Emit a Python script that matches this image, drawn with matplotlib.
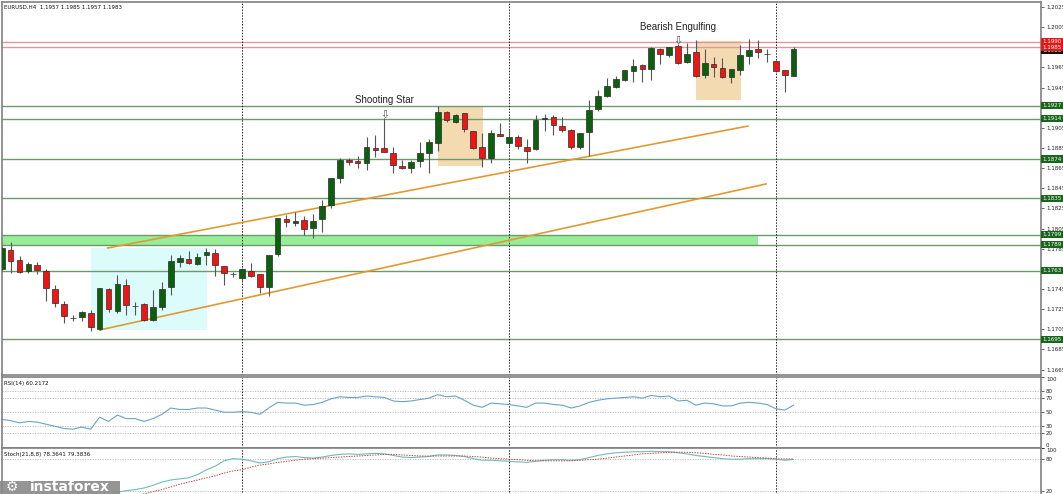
import numpy as np
import matplotlib
matplotlib.use("Agg")
import matplotlib.pyplot as plt
from matplotlib.patches import Rectangle
from matplotlib.transforms import blended_transform_factory

# EURUSD H4 candles
opens = [1.1765, 1.1784, 1.1774, 1.1763, 1.1769, 1.1763, 1.1745, 1.1730, 1.1716, 1.1717,
         1.1721, 1.1705, 1.1745, 1.1723, 1.1749, 1.1728, 1.1730, 1.1714, 1.1727, 1.1747,
         1.1772, 1.1775, 1.1770, 1.1779, 1.1781, 1.1768, 1.1760, 1.1756, 1.1763, 1.1760,
         1.1747, 1.1780, 1.1815, 1.1811, 1.1814, 1.1806, 1.1815, 1.1828, 1.1855, 1.1873,
         1.1872, 1.1870, 1.1885, 1.1885, 1.1880, 1.1867, 1.1865, 1.1872, 1.1880, 1.1890,
         1.1921, 1.1911, 1.1920, 1.1902, 1.1886, 1.1875, 1.1899, 1.1890, 1.1896, 1.1886,
         1.1884, 1.1914, 1.1916, 1.1907, 1.1903, 1.1886, 1.1901, 1.1924, 1.1937, 1.1946,
         1.1953, 1.1961, 1.1967, 1.1963, 1.1983, 1.1977, 1.1986, 1.1970, 1.1980, 1.1958,
         1.1968, 1.1964, 1.1956, 1.1962, 1.1976, 1.1983, 1.1978, 1.1971, 1.1962, 1.1957]
highs = [1.1791, 1.1792, 1.1778, 1.1772, 1.1772, 1.1765, 1.1749, 1.1733, 1.1719, 1.1723,
         1.1724, 1.1746, 1.1746, 1.1759, 1.1755, 1.1732, 1.1731, 1.1744, 1.1752, 1.1779,
         1.1779, 1.1783, 1.1781, 1.1786, 1.1785, 1.1768, 1.1762, 1.1766, 1.1771, 1.1760,
         1.1779, 1.1816, 1.1818, 1.1821, 1.1817, 1.1819, 1.1833, 1.1855, 1.1875, 1.1875,
         1.1877, 1.1896, 1.1898, 1.1915, 1.1886, 1.1873, 1.1873, 1.1891, 1.1894, 1.1927,
         1.1922, 1.1919, 1.1920, 1.1902, 1.1900, 1.1903, 1.1910, 1.1904, 1.1898, 1.1894,
         1.1918, 1.1919, 1.1918, 1.1916, 1.1904, 1.1900, 1.1933, 1.1943, 1.1955, 1.1957,
         1.1962, 1.1973, 1.1968, 1.1985, 1.1984, 1.1985, 1.1988, 1.1989, 1.1992, 1.1983,
         1.1975, 1.1974, 1.1963, 1.1987, 1.1993, 1.1992, 1.1983, 1.1971, 1.1962, 1.1985]
lows = [1.1762, 1.1761, 1.1761, 1.1761, 1.1760, 1.1733, 1.1727, 1.1711, 1.1713, 1.1713,
        1.1703, 1.1704, 1.1722, 1.1721, 1.1719, 1.1719, 1.1713, 1.1713, 1.1724, 1.1739,
        1.1767, 1.1770, 1.1769, 1.1769, 1.1758, 1.1749, 1.1757, 1.1752, 1.1757, 1.1741,
        1.1738, 1.1778, 1.1807, 1.1808, 1.1799, 1.1796, 1.1802, 1.1825, 1.1850, 1.1868,
        1.1865, 1.1863, 1.1876, 1.1881, 1.1860, 1.1864, 1.1860, 1.1866, 1.1860, 1.1882,
        1.1911, 1.1910, 1.1901, 1.1884, 1.1866, 1.1870, 1.1897, 1.1886, 1.1884, 1.1870,
        1.1883, 1.1902, 1.1898, 1.1901, 1.1884, 1.1884, 1.1877, 1.1922, 1.1936, 1.1945,
        1.1952, 1.1951, 1.1951, 1.1953, 1.1968, 1.1975, 1.1968, 1.1969, 1.1956, 1.1955,
        1.1956, 1.1955, 1.1950, 1.1958, 1.1968, 1.1974, 1.1970, 1.1960, 1.1941, 1.1957]
closes = [1.1786, 1.1773, 1.1762, 1.1770, 1.1764, 1.1746, 1.1731, 1.1718, 1.1716, 1.1722,
          1.1707, 1.1746, 1.1725, 1.1750, 1.1729, 1.1728, 1.1714, 1.1727, 1.1745, 1.1773,
          1.1776, 1.1771, 1.1777, 1.1782, 1.1769, 1.1761, 1.1760, 1.1765, 1.1758, 1.1747,
          1.1779, 1.1816, 1.1812, 1.1813, 1.1805, 1.1813, 1.1827, 1.1855, 1.1873, 1.1871,
          1.1870, 1.1886, 1.1883, 1.1881, 1.1868, 1.1865, 1.1871, 1.1880, 1.1891, 1.1921,
          1.1913, 1.1918, 1.1904, 1.1885, 1.1875, 1.1900, 1.1897, 1.1896, 1.1887, 1.1882,
          1.1913, 1.1915, 1.1908, 1.1903, 1.1886, 1.1900, 1.1923, 1.1937, 1.1947, 1.1954,
          1.1962, 1.1966, 1.1963, 1.1984, 1.1978, 1.1985, 1.1969, 1.1978, 1.1957, 1.1969,
          1.1965, 1.1956, 1.1963, 1.1977, 1.1982, 1.1980, 1.1978, 1.1961, 1.1958, 1.1983]

rsi = [40, 38, 35, 37, 36, 33, 30, 27, 26, 29, 26, 43, 37, 46, 41, 41, 37, 41, 47, 56,
       54, 54, 56, 56, 53, 50, 50, 51, 50, 47, 56, 64, 63, 63, 60, 61, 64, 69, 72, 71,
       71, 73, 72, 71, 66, 65, 66, 68, 70, 75, 72, 73, 67, 60, 57, 63, 62, 61, 59, 57,
       63, 63, 61, 60, 56, 59, 64, 67, 69, 70, 71, 72, 70, 74, 72, 73, 66, 67, 60, 63,
       62, 59, 59, 63, 64, 63, 61, 55, 53, 60.2]
stoch_k = [12, 10, 8, 7, 6, 5, 4, 3, 3, 4, 3, 8, 10, 17, 20, 22, 25, 30, 36, 40,
           42, 44, 50, 59, 66, 76, 80, 79, 76, 72, 74, 80, 83, 84, 82, 81, 83, 86, 88, 89,
           88, 89, 90, 89, 86, 83, 82, 83, 84, 87, 87, 86, 84, 80, 77, 77, 76, 75, 74, 73,
           75, 77, 78, 78, 77, 78, 82, 86, 89, 91, 92, 93, 93, 94, 93, 93, 91, 89, 86, 84,
           82, 80, 79, 79, 80, 80, 80, 79, 77, 78.36]
stoch_d = [8, 7, 6, 5, 5, 4, 4, 3, 3, 3, 3, 4, 5, 7, 9, 11, 14, 18, 22, 27,
           32, 36, 40, 44, 48, 53, 57, 59, 64, 68, 70, 73, 75, 77, 79, 80, 81, 82, 83, 84,
           85, 86, 87, 88, 88, 87, 86, 85, 85, 85, 85, 85, 85, 84, 83, 81, 80, 79, 78, 77,
           76, 76, 76, 76, 76, 77, 78, 79, 81, 83, 85, 87, 89, 90, 91, 92, 92, 92, 91, 90,
           88, 87, 85, 84, 83, 82, 81, 80, 79.5, 79.38]

support_levels = [1.1927, 1.1914, 1.1874, 1.1835, 1.1799, 1.1789, 1.1763, 1.1695]
resistance_levels = [1.1990, 1.1985]
last_price = 1.1983
zone_low, zone_high = 1.1789, 1.1799
# scale ticks (the ones hidden under the coloured boxes are left out)
price_ticks = [1.2025, 1.2005, 1.1965, 1.1945, 1.1905, 1.1885, 1.1865,
               1.1845, 1.1825, 1.1805, 1.1785, 1.1745, 1.1725, 1.1705, 1.1685, 1.1665]
week_starts = [27, 57, 87]

# trend channel: (candle index, price) of both ends
upper_line = [(11.9, 1.17857), (83.85, 1.19068)]
lower_line = [(11.0, 1.17043), (85.9, 1.18493)]

W, H = 1063, 494
fig = plt.figure(figsize=(W / 100, H / 100), dpi=100)
fig.patch.set_facecolor("white")


def px_axes(x0, y0, x1, y1):
    return fig.add_axes([x0 / W, 1 - y1 / H, (x1 - x0) / W, (y1 - y0) / H])


ax = px_axes(2, 2, 1041, 375)
rsi_ax = px_axes(2, 377, 1041, 447.5)
st_ax = px_axes(2, 448, 1041, 501.3)

xlim = (0.03, 116.8)
idx = np.arange(len(opens))
for a in (ax, rsi_ax, st_ax):
    a.set_xlim(*xlim)
    a.set_xticks([])
    a.yaxis.tick_right()
    a.tick_params(axis="y", labelsize=4, length=2, width=0.5, colors="#222222", pad=1.5)
    for s in a.spines.values():
        s.set_color("#808080")
        s.set_linewidth(1.2)
    for w in week_starts:
        a.axvline(w, color="#222222", lw=0.7, ls=(0, (1.5, 1.5)), zorder=1)

ax.set_ylim(1.16596, 1.2030)
ax.set_yticks(price_ticks, labels=[f"{p:.4f}" for p in price_ticks])

# boxes
ax.add_patch(Rectangle((10.0, 1.17043), 13.1, 1.17857 - 1.17043, fc="#dcfbfb", ec="none", zorder=0))
ax.add_patch(Rectangle((49.0, 1.18671), 5.1, 1.19257 - 1.18671, fc="#f4dab0", ec="none", zorder=0))
ax.add_patch(Rectangle((78.0, 1.19327), 5.1, 1.19913 - 1.19327, fc="#f4dab0", ec="none", zorder=0))

# zone + horizontal levels
ax.fill_between([xlim[0], 85.0], zone_low, zone_high, color="#98ee98", lw=0, zorder=0.5)
for p in support_levels:
    ax.axhline(p, color="#6d9a6d", lw=1.0, zorder=0.8)
for p in resistance_levels:
    ax.axhline(p, color="#dc9a9a", lw=1.0, zorder=0.8)

# trend lines
for line in (upper_line, lower_line):
    xs, ys = zip(*line)
    ax.plot(xs, ys, color="#e09a30", lw=1.2, zorder=1)

# candles
opens_a, closes_a = np.array(opens), np.array(closes)
bull = closes_a >= opens_a
ax.vlines(idx, lows, highs, color="#555555", lw=0.8, zorder=2)
body_h = np.maximum(np.abs(closes_a - opens_a), 0.00003)
ax.bar(idx, body_h, bottom=np.minimum(opens_a, closes_a), width=0.64,
       color=np.where(bull, "#0c5f0c", "#f01414"), edgecolor="#2a2a2a", lw=0.5, zorder=3)

# pattern labels
ax.text(43, 1.1928, "Shooting Star", ha="center", va="bottom", fontsize=7,
        family="Liberation Sans", color="#222222")
ax.text(43, 1.19135, "\u21e9", ha="center", va="bottom", fontsize=8, color="#555555")
ax.text(76, 1.2000, "Bearish Engulfing", ha="center", va="bottom", fontsize=7,
        family="Liberation Sans", color="#222222")
ax.text(76, 1.19865, "\u21e9", ha="center", va="bottom", fontsize=8, color="#555555")

ax.text(0.002, 0.993, "EURUSD,H4  1.1957 1.1985 1.1957 1.1983", transform=ax.transAxes,
        fontsize=4, va="top", color="#111111")

# price labels on the right scale
tr = blended_transform_factory(ax.transAxes, ax.transData)


def scale_label(p, fc, dy=0.0):
    ax.text(1.0015, p + dy, f"{p:.4f}", transform=tr, fontsize=4, color="white", va="center",
            ha="left", clip_on=False, zorder=6,
            bbox=dict(boxstyle="square,pad=0.2", fc=fc, ec="none"))


scale_label(last_price, "#111111", -0.0001)
scale_label(resistance_levels[1], "#e01818")
scale_label(resistance_levels[0], "#e01818", 0.0001)
for p in support_levels:
    scale_label(p, "#17661a")

# RSI panel
rsi_ax.set_ylim(0, 100)
rsi_ax.set_yticks([100, 80, 70, 50, 30, 20, 0])
for lv in [80, 70, 50, 30, 20]:
    rsi_ax.axhline(lv, color="#b8b8b8", lw=0.6, ls=(0, (1.5, 1.5)), zorder=0)
rsi_ax.plot(idx, rsi, color="#6aa3c8", lw=0.8, zorder=2)
rsi_ax.get_yticklabels()[0].set_va("top")
rsi_ax.get_yticklabels()[-1].set_va("bottom")
rsi_ax.text(0.002, 0.95, "RSI(14) 60.2172", transform=rsi_ax.transAxes, fontsize=4,
            va="top", color="#111111")

# Stochastic panel
st_ax.set_ylim(0, 100)
st_ax.set_yticks([100, 80, 20])
for lv in [80, 20]:
    st_ax.axhline(lv, color="#b8b8b8", lw=0.6, ls=(0, (1.5, 1.5)), zorder=0)
st_ax.plot(idx, stoch_k, color="#6fbcb8", lw=0.8, zorder=2)
st_ax.plot(idx, stoch_d, color="#c44a4a", lw=0.7, ls=(0, (1.5, 1.2)), zorder=2)
st_ax.get_yticklabels()[0].set_va("top")
st_ax.text(0.002, 0.93, "Stoch(21,8,8) 78.3641 79.3836", transform=st_ax.transAxes,
           fontsize=4, va="top", color="#111111")

# watermark
fig.patches.append(Rectangle((0, 0), 120 / W, 13 / H, transform=fig.transFigure,
                             fc="#8a8a8a", ec="none", alpha=0.9, zorder=10))
fig.text(6 / W, 0, "\u2699", fontsize=10, color="white", va="bottom", zorder=11)
fig.text(30 / W, 0, "instaforex", fontsize=10, color="white", weight="semibold",
         va="bottom", zorder=11)

fig.savefig("out.png", dpi=100)
